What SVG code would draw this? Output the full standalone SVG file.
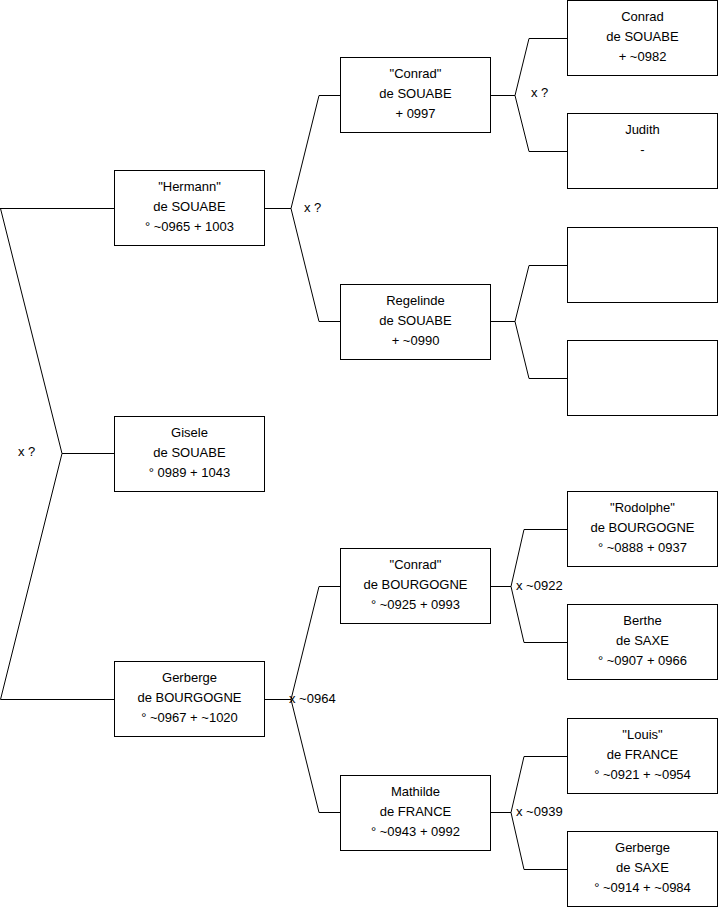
<svg xmlns="http://www.w3.org/2000/svg" width="719" height="908" viewBox="0 0 719 908">
<style>
.box rect{fill:#fff;stroke:#000;stroke-width:1}
.box text,.lbl{font-family:"Liberation Sans",Arial,sans-serif;font-size:13px;fill:#000}
.box text{text-anchor:middle}
.conn path{fill:none;stroke:#000;stroke-width:1}
</style>
<rect width="719" height="908" fill="#fff"/>
<g id="connectors" class="conn">
<path d="M0,208.5 H114.5 M0.5,208.5 L62,453.5 L0.5,699.5 H114.5 M62,453.5 H114.5"/>
<path d="M264.5,208.5 H291 L319,95.5 H340.5 M291,208.5 L319,321.5 H340.5"/>
<path d="M264.5,699.5 H291 L319,586.5 H340.5 M291,699.5 L319,812.5 H340.5"/>
<path d="M490.5,95.5 H515 L529,38.5 H567.5 M515,95.5 L529,151.5 H567.5"/>
<path d="M490.5,321.5 H515 L529,265.5 H567.5 M515,321.5 L529,378.5 H567.5"/>
<path d="M490.5,586.5 H511 L524,529.5 H567.5 M511,586.5 L524,642.5 H567.5"/>
<path d="M490.5,812.5 H511 L524,756.5 H567.5 M511,812.5 L524,869.5 H567.5"/>
<text class="lbl" x="18" y="456">x ?</text>
<text class="lbl" x="304" y="212">x ?</text>
<text class="lbl" x="289" y="703">x ~0964</text>
<text class="lbl" x="531" y="97">x ?</text>
<text class="lbl" x="516" y="590">x ~0922</text>
<text class="lbl" x="516" y="816">x ~0939</text>
</g>
<g id="n-hermann" class="box"><rect x="114.5" y="170.5" width="150" height="75"/><text x="189.5" y="191">"Hermann"</text><text x="189.5" y="211">de SOUABE</text><text x="189.5" y="231">° ~0965 + 1003</text></g>
<g id="n-gisele" class="box"><rect x="114.5" y="416.5" width="150" height="75"/><text x="189.5" y="437">Gisele</text><text x="189.5" y="457">de SOUABE</text><text x="189.5" y="477">° 0989 + 1043</text></g>
<g id="n-gerberge-b" class="box"><rect x="114.5" y="661.5" width="150" height="75"/><text x="189.5" y="682">Gerberge</text><text x="189.5" y="702">de BOURGOGNE</text><text x="189.5" y="722">° ~0967 + ~1020</text></g>
<g id="n-conrad-s" class="box"><rect x="340.5" y="57.5" width="150" height="75"/><text x="415.5" y="78">"Conrad"</text><text x="415.5" y="98">de SOUABE</text><text x="415.5" y="118">+ 0997</text></g>
<g id="n-regelinde" class="box"><rect x="340.5" y="284.5" width="150" height="75"/><text x="415.5" y="305">Regelinde</text><text x="415.5" y="325">de SOUABE</text><text x="415.5" y="345">+ ~0990</text></g>
<g id="n-conrad-b" class="box"><rect x="340.5" y="548.5" width="150" height="75"/><text x="415.5" y="569">"Conrad"</text><text x="415.5" y="589">de BOURGOGNE</text><text x="415.5" y="609">° ~0925 + 0993</text></g>
<g id="n-mathilde" class="box"><rect x="340.5" y="775.5" width="150" height="75"/><text x="415.5" y="796">Mathilde</text><text x="415.5" y="816">de FRANCE</text><text x="415.5" y="836">° ~0943 + 0992</text></g>
<g id="n-conrad-s2" class="box"><rect x="567.5" y="0.5" width="150" height="75"/><text x="642.5" y="21">Conrad</text><text x="642.5" y="41">de SOUABE</text><text x="642.5" y="61">+ ~0982</text></g>
<g id="n-judith" class="box"><rect x="567.5" y="113.5" width="150" height="75"/><text x="642.5" y="134">Judith</text><text x="642.5" y="154">-</text></g>
<g id="n-empty1" class="box"><rect x="567.5" y="227.5" width="150" height="75"/></g>
<g id="n-empty2" class="box"><rect x="567.5" y="340.5" width="150" height="75"/></g>
<g id="n-rodolphe" class="box"><rect x="567.5" y="491.5" width="150" height="75"/><text x="642.5" y="512">"Rodolphe"</text><text x="642.5" y="532">de BOURGOGNE</text><text x="642.5" y="552">° ~0888 + 0937</text></g>
<g id="n-berthe" class="box"><rect x="567.5" y="604.5" width="150" height="75"/><text x="642.5" y="625">Berthe</text><text x="642.5" y="645">de SAXE</text><text x="642.5" y="665">° ~0907 + 0966</text></g>
<g id="n-louis" class="box"><rect x="567.5" y="718.5" width="150" height="75"/><text x="642.5" y="739">"Louis"</text><text x="642.5" y="759">de FRANCE</text><text x="642.5" y="779">° ~0921 + ~0954</text></g>
<g id="n-gerberge-s" class="box"><rect x="567.5" y="831.5" width="150" height="75"/><text x="642.5" y="852">Gerberge</text><text x="642.5" y="872">de SAXE</text><text x="642.5" y="892">° ~0914 + ~0984</text></g>
</svg>
